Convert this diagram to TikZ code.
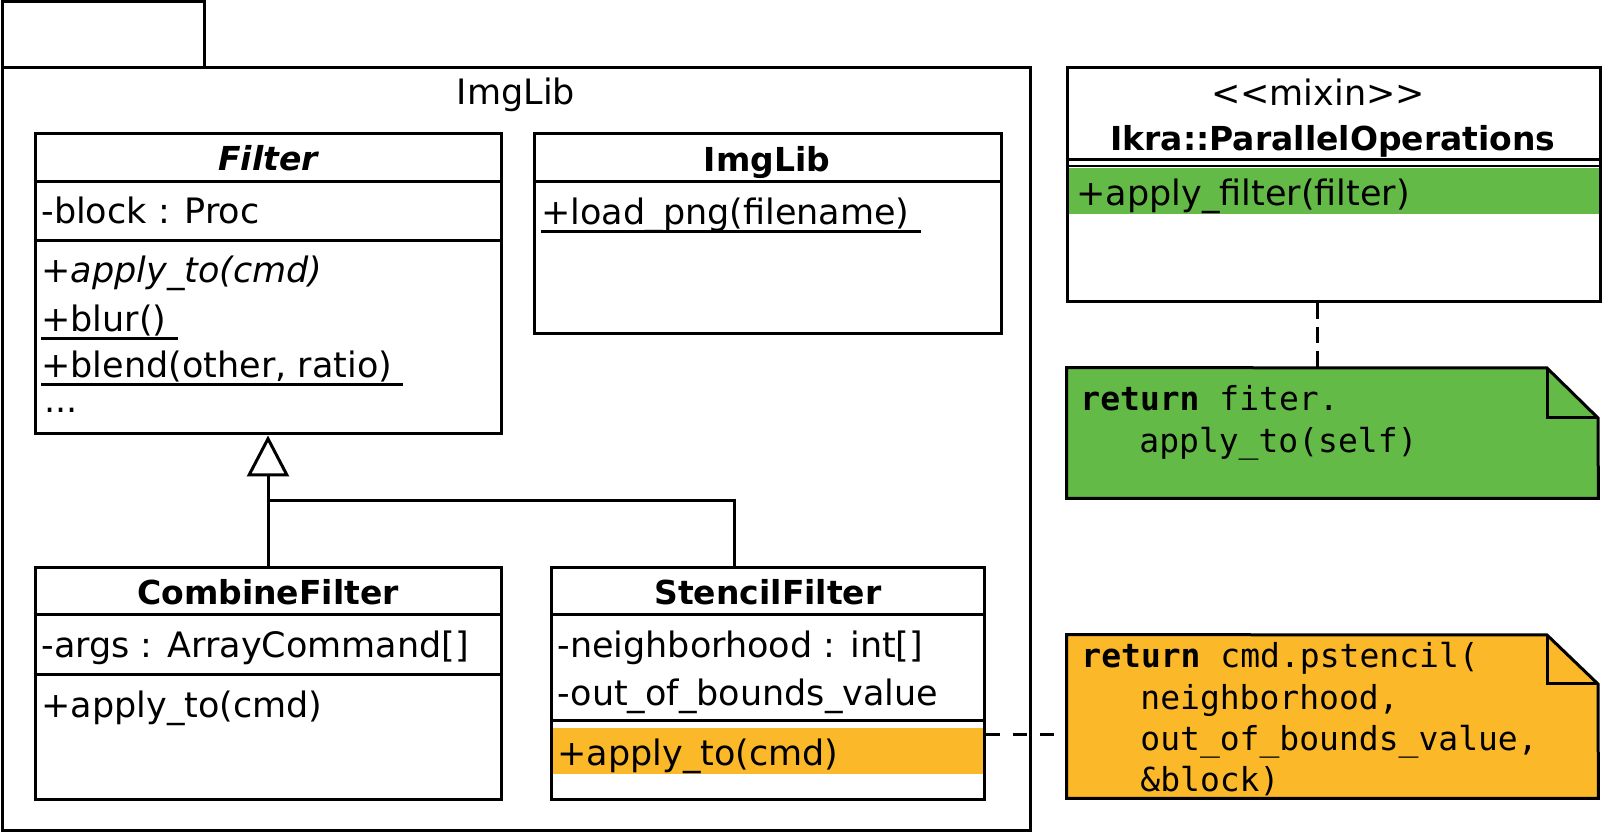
\documentclass[tikz,border=0pt]{standalone}
\usepackage{fontspec}
\setmainfont{DejaVu Sans}
\newfontfamily\codefont{DejaVu Sans Mono}
\usetikzlibrary{arrows.meta,fit}
\definecolor{hlgreen}{RGB}{99,186,71}
\definecolor{hlorange}{RGB}{251,184,41}
\newcommand\ulbox[1]{\setbox0=\hbox{#1\ }\rlap{\rule[-4pt]{\wd0}{1.5pt}}#1}
\tikzset{
 box/.style={draw=black, line width=1.5pt, inner sep=0pt},
 sepline/.style={line width=1.5pt},
 txt/.style={inner sep=0pt, anchor=base west, font=\fontsize{17.5}{21}\selectfont},
 ctxt/.style={inner sep=0pt, anchor=base, font=\fontsize{17.5}{21}\selectfont},
 ttl/.style={inner sep=0pt, anchor=base, font=\fontsize{16.5}{20}\selectfont\bfseries},
 code/.style={inner sep=0pt, anchor=base west, font=\fontsize{16.5}{20}\selectfont\codefont},
 note/.style={draw=black, line width=1.5pt, line join=miter},
 notelink/.style={line width=1.5pt, dash pattern=on 8pt off 4pt},
 notelinkh/.style={line width=1.5pt, dash pattern=on 7pt off 6.5pt},
 inherit/.style={line width=1.5pt, -{Triangle[length=20.5pt,width=21pt,fill=white]}}
}
\begin{document}
\begin{tikzpicture}[x=0.5pt, y=-0.5pt]
\fill[white] (0,0) rectangle (1603,833);
\useasboundingbox (0,0) rectangle (1603,833);

% highlight bands
\fill[hlgreen] (1069,168) rectangle (1599,214);
\fill[hlorange] (552,728) rectangle (983,774);

% package
\node[box, fit={(2,2) (204,68)}] (tab) {};
\node[box, fit={(2,68) (1030,831)}] (pkg) {};
\node[ctxt] (pkglabel) at (516,105) {ImgLib};

% Filter
\node[box, fit={(35,134) (501,434)}] (filter) {};
\draw[sepline] (filter.west |- 0,182) -- (filter.east |- 0,182);
\draw[sepline] (filter.west |- 0,241) -- (filter.east |- 0,241);
\node[ttl, font=\fontsize{16.5}{20}\selectfont\bfseries\itshape] (filtert) at (268,171) {Filter};
\node[txt] (fa1) at (41,224) {-block : Proc};
\node[txt] (fm1) at (41,283) {\itshape +apply\_to(cmd)};
\node[txt] (fm2) at (41,332) {\ulbox{+blur()}};
\node[txt] (fm3) at (41,378) {\ulbox{+blend(other, ratio)}};
\node[txt] (fm4) at (44,413) {...};

% ImgLib class
\node[box, fit={(534,134) (1001,334)}] (imglib) {};
\draw[sepline] (imglib.west |- 0,182) -- (imglib.east |- 0,182);
\node[ttl] (imglibt) at (767,172) {ImgLib};
\node[txt] (im1) at (541,225) {\ulbox{+load\_png(filename)}};

% CombineFilter
\node[box, fit={(35,568) (501,800)}] (combine) {};
\draw[sepline] (combine.west |- 0,615) -- (combine.east |- 0,615);
\draw[sepline] (combine.west |- 0,675) -- (combine.east |- 0,675);
\node[ttl] (combinet) at (268,605) {CombineFilter};
\node[txt] (ca1) at (41,658) {-args : ArrayCommand[]};
\node[txt] (cm1) at (41,718) {+apply\_to(cmd)};

% StencilFilter
\node[box, fit={(551,568) (984,800)}] (stencil) {};
\draw[sepline] (stencil.west |- 0,615) -- (stencil.east |- 0,615);
\draw[sepline] (stencil.west |- 0,721) -- (stencil.east |- 0,721);
\node[ttl] (stencilt) at (768,605) {StencilFilter};
\node[txt] (sa1) at (557,658) {-neighborhood : int[]};
\node[txt] (sa2) at (557,706) {-out\_of\_bounds\_value};
\node[txt] (sm1) at (557,766) {+apply\_to(cmd)};

% Ikra::ParallelOperations
\node[box, fit={(1067,68) (1600,302)}] (ikra) {};
\draw[sepline] (ikra.west |- 0,160) -- (ikra.east |- 0,160);
\draw[line width=1pt] (ikra.west |- 0,166) -- (ikra.east |- 0,166);
\node[ctxt] (ikras) at (1318,106) {<\kern0pt<mixin>\kern0pt>};
\node[ttl] (ikrat) at (1333,151) {Ikra::ParallelOperations};
\node[txt] (ikm1) at (1076,206) {+apply\_filter(filter)};

% green note
\node[fit={(1067,368) (1598,498)}, inner sep=0pt] (gnote) {};
\draw[note, fill=hlgreen] (gnote.north west) -- (1547,368) -- (1598,418) -- (gnote.south east) -- (gnote.south west) -- cycle;
\draw[note] (1547,368) -- (1547,418) -- (1598,418);
\node[code] (g1) at (1080,411) {\bfseries return\mdseries{} fiter.};
\node[code] (g2) at (1139,453) {apply\_to(self)};

% orange note
\node[fit={(1067,635) (1598,798)}, inner sep=0pt] (onote) {};
\draw[note, fill=hlorange] (onote.north west) -- (1547,635) -- (1598,684) -- (onote.south east) -- (onote.south west) -- cycle;
\draw[note] (1547,635) -- (1547,684) -- (1598,684);
\node[code] (o1) at (1081,668) {\bfseries return\mdseries{} cmd.pstencil(};
\node[code] (o2) at (1140,710) {neighborhood,};
\node[code] (o3) at (1140,751) {out\_of\_bounds\_value,};
\node[code] (o4) at (1140,792) {\&block)};

% connectors
\coordinate (jn) at (268,501);
\coordinate (sx) at (734,0);
\draw[inherit] (combine.north) -- (filter.south);
\draw[sepline] (stencil.north -| sx) |- (jn);
\coordinate (gx) at (1317,0);
\draw[notelink] (ikra.south -| gx) -- (gnote.north -| gx);
\coordinate (oy) at (0,735);
\draw[notelinkh] (stencil.east |- oy) -- (onote.west |- oy);
\end{tikzpicture}
\end{document}
